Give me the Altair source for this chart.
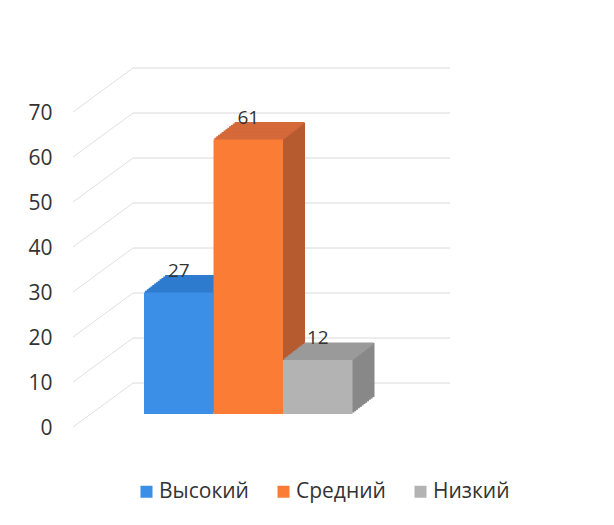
import altair as alt
import pandas as pd

# ---- data ----
categories = ["Высокий", "Средний", "Низкий"]
values = [27, 61, 12]
front_colors = ["#3b8fe6", "#fb7c34", "#b3b3b3"]
top_colors = ["#2e7bcf", "#d4693a", "#9a9a9a"]
side_colors = ["#2568b0", "#b65a30", "#888888"]
y_ticks = [0, 10, 20, 30, 40, 50, 60, 70]

FONT = "Open Sans"
TEXT = "#333333"
DX, DY, N = 22, 17, 12   # 3-D depth of the boxes (pixels) and sweep steps

bars = pd.DataFrame({
    "cat": categories,
    "value": values,
    "front": front_colors,
    "top": top_colors,
    "side": side_colors,
})
grid = pd.DataFrame({"v": y_ticks})

y_scale = alt.Scale(domain=[0, 70], nice=False, zero=True)
y_axis = alt.Axis(values=y_ticks, domain=False, ticks=False, tickSize=0, grid=False,
                  labelPadding=8, labelOffset=14, labelFont=FONT, labelFontSize=21,
                  labelColor=TEXT, title=None)
x_enc = alt.X("cat:N", sort=categories, axis=None,
              scale=alt.Scale(range=[84, 292.5], paddingInner=0, paddingOuter=0))
y_enc = alt.Y("value:Q", scale=y_scale, axis=y_axis)

# back-wall gridlines + diagonal "floor" lines
back_grid = alt.Chart(grid).mark_rule(color="#dadada", strokeWidth=1, yOffset=-31).encode(
    x=alt.value(73), x2=alt.value(390),
    y=alt.Y("v:Q", scale=y_scale, axis=y_axis),
)
diag_grid = alt.Chart(grid).mark_rule(color="#e0e0e0", strokeWidth=1, yOffset=13, y2Offset=-31).encode(
    x=alt.value(13), x2=alt.value(73),
    y=alt.Y("v:Q", scale=y_scale, axis=y_axis), y2="v:Q",
)

base = alt.Chart(bars)

# body of each box (sweep of the front rectangle towards the back)
sweeps = []
for k in range(1, N + 1):
    ox, oy = DX * k / N, -DY * k / N
    sweeps.append(
        base.mark_bar(xOffset=ox, x2Offset=ox, yOffset=oy, y2Offset=oy).encode(
            x=x_enc, y=y_enc, fill=alt.Fill("side:N", scale=None, legend=None)
        )
    )

# top faces as thin slanted strips
tops = []
for k in range(N):
    ox = DX * (k + 0.5) / N
    tops.append(
        base.mark_bar(xOffset=ox, x2Offset=ox,
                      yOffset=-DY * (k + 1) / N - 0.4, y2Offset=-DY * k / N + 0.4).encode(
            x=x_enc, y=y_enc, y2="value:Q",
            fill=alt.Fill("top:N", scale=None, legend=None)
        )
    )

front = base.mark_bar().encode(
    x=x_enc, y=y_enc,
    color=alt.Color("cat:N", sort=categories,
                    scale=alt.Scale(domain=categories, range=front_colors),
                    legend=alt.Legend(orient="none", legendX=76, legendY=382,
                                      direction="horizontal", title=None,
                                      symbolType="square", symbolSize=144,
                                      symbolStrokeWidth=0, labelFont=FONT,
                                      labelFontSize=21, labelColor=TEXT,
                                      columnPadding=24, labelOffset=2)),
)

labels = base.mark_text(dy=-16, baseline="alphabetic", align="center",
                        font=FONT, fontSize=19, color=TEXT).encode(
    x=x_enc, y=y_enc, text="value:Q"
)

chart = alt.layer(back_grid, diag_grid, *sweeps, *tops, front, labels).properties(
    width=400, height=315,
    autosize=alt.AutoSizeParams(type="none"),
    padding={"left": 52, "top": 91, "right": 146, "bottom": 103},
).configure_view(stroke=None)

chart.save("out.html", embed_options={"renderer": "svg", "actions": False})
